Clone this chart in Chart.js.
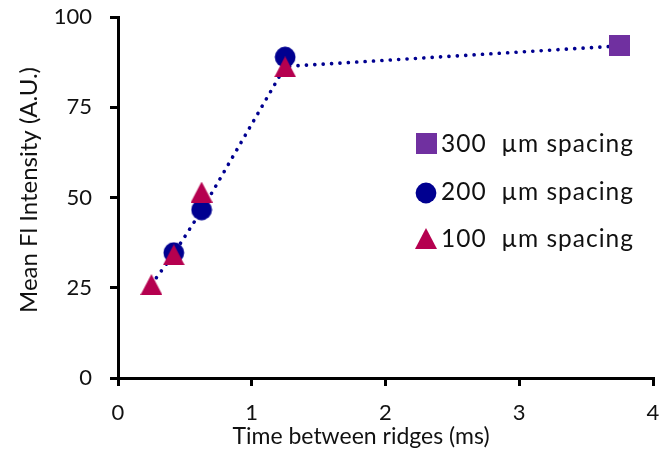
<!DOCTYPE html>
<html>
<head>
<meta charset="utf-8">
<script src="https://cdn.jsdelivr.net/npm/chart.js@4/dist/chart.umd.min.js"></script>
<style>
  html, body { margin: 0; padding: 0; background: #fff; }
  #wrap { width: 666px; height: 454px; }
</style>
</head>
<body>
<div id="wrap"><canvas id="chart" width="666" height="454"></canvas></div>
<script>
// --- data ---
const time100 = [0.25, 0.417, 0.625, 1.25];
const intensity100 = [25.9, 34.1, 51.5, 86.2];
const time200 = [0.417, 0.625, 1.25];
const intensity200 = [34.7, 46.6, 88.9];
const time300 = [3.75];
const intensity300 = [92.0];
// dotted guide line
const lineTime = [0.25, 0.417, 0.625, 1.25, 3.75];
const lineIntensity = [25.9, 34.4, 46.4, 86.3, 92.0];

const xTicks = [0, 1, 2, 3, 4];
const yTicks = [0, 25, 50, 75, 100];
const seriesNames = ["300  \u00b5m spacing", "200  \u00b5m spacing", "100  \u00b5m spacing"];
const xTitle = "Time between ridges (ms)";
const yTitle = "Mean Fl Intensity (A.U.)";

const FONT = "Lato";
const TEXT = "#111";

function toPoints(xs, ys) {
  return xs.map((x, i) => ({ x: x, y: ys[i] }));
}

// marker images so the shapes are centred like the original
function makeMarker(kind, color) {
  const c = document.createElement("canvas");
  const g = c.getContext("2d");
  if (kind === "square") {
    c.width = 21; c.height = 21;
    g.fillStyle = color;
    g.fillRect(0, 0, 21, 21);
  } else if (kind === "circle") {
    c.width = 22; c.height = 22;
    g.fillStyle = color;
    g.beginPath();
    g.arc(11, 11, 10.4, 0, Math.PI * 2);
    g.fill();
  } else {
    c.width = 22; c.height = 21;
    g.fillStyle = color;
    g.beginPath();
    g.moveTo(11, 0);
    g.lineTo(22, 21);
    g.lineTo(0, 21);
    g.closePath();
    g.fill();
  }
  return c;
}

const squareImg = makeMarker("square", "#7030a0");
const circleImg = makeMarker("circle", "#000090");
const triImg = makeMarker("triangle", "#b5004f");
const legendImgs = [squareImg, circleImg, triImg];

// legend inside the plot area + axis titles (placed like the original)
const extras = {
  id: "extras",
  afterDraw(chart) {
    const ctx = chart.ctx;
    const mx = 426, tx = 441;
    const markY = [143, 193, 238.5];
    const textY = [151.5, 200, 246.5];
    ctx.save();
    ctx.font = "24.5px " + FONT;
    ctx.letterSpacing = "1px";
    ctx.fillStyle = TEXT;
    ctx.textAlign = "left";
    ctx.textBaseline = "alphabetic";
    for (let i = 0; i < seriesNames.length; i++) {
      const img = legendImgs[i];
      ctx.drawImage(img, mx - img.width / 2, markY[i] - img.height / 2);
      ctx.fillText(seriesNames[i], tx, textY[i]);
    }
    ctx.letterSpacing = "0px";

    ctx.font = "23px " + FONT;
    ctx.textAlign = "center";
    ctx.textBaseline = "middle";
    ctx.fillText(xTitle, 361, 437);

    ctx.translate(29, 190);
    ctx.rotate(-Math.PI / 2);
    ctx.font = "24px " + FONT;
    ctx.fillText(yTitle, 0, 0);
    ctx.restore();
  }
};

const axisGrid = {
  display: true,
  drawOnChartArea: false,
  drawTicks: true,
  tickLength: 8,
  color: "#000",
  lineWidth: 3
};

new Chart(document.getElementById("chart"), {
  type: "scatter",
  data: {
    datasets: [
      {
        label: seriesNames[2],
        data: toPoints(time100, intensity100),
        pointStyle: triImg,
        order: 1
      },
      {
        label: seriesNames[1],
        data: toPoints(time200, intensity200),
        pointStyle: circleImg,
        order: 2
      },
      {
        label: seriesNames[0],
        data: toPoints(time300, intensity300),
        pointStyle: squareImg,
        order: 3
      },
      {
        label: "trend",
        data: toPoints(lineTime, lineIntensity),
        showLine: true,
        pointRadius: 0,
        borderColor: "#000090",
        borderWidth: 3.6,
        borderDash: [0.1, 8.3],
        borderCapStyle: "round",
        fill: false,
        order: 4
      }
    ]
  },
  options: {
    responsive: false,
    animation: false,
    events: [],
    layout: { padding: { left: 0, right: 13, top: 17, bottom: 0 } },
    plugins: {
      legend: { display: false },
      tooltip: { enabled: false }
    },
    scales: {
      x: {
        type: "linear",
        min: 0,
        max: 4,
        afterBuildTicks: (s) => { s.ticks = xTicks.map(v => ({ value: v })); },
        afterFit: (s) => {
          s.height = 76;
          s.paddingLeft = 0; s.paddingRight = 0;
        },
        grid: axisGrid,
        border: { display: true, color: "#000", width: 3 },
        ticks: {
          color: TEXT,
          padding: 14,
          font: { family: FONT, size: 22 }
        }
      },
      y: {
        type: "linear",
        min: 0,
        max: 100,
        afterBuildTicks: (s) => { s.ticks = yTicks.map(v => ({ value: v })); },
        afterFit: (s) => {
          s.width = 118;
          s.paddingTop = 0; s.paddingBottom = 0;
        },
        grid: axisGrid,
        border: { display: true, color: "#000", width: 3 },
        ticks: {
          color: TEXT,
          padding: 18,
          font: { family: FONT, size: 22 }
        }
      }
    }
  },
  plugins: [extras]
});
</script>
</body>
</html>
